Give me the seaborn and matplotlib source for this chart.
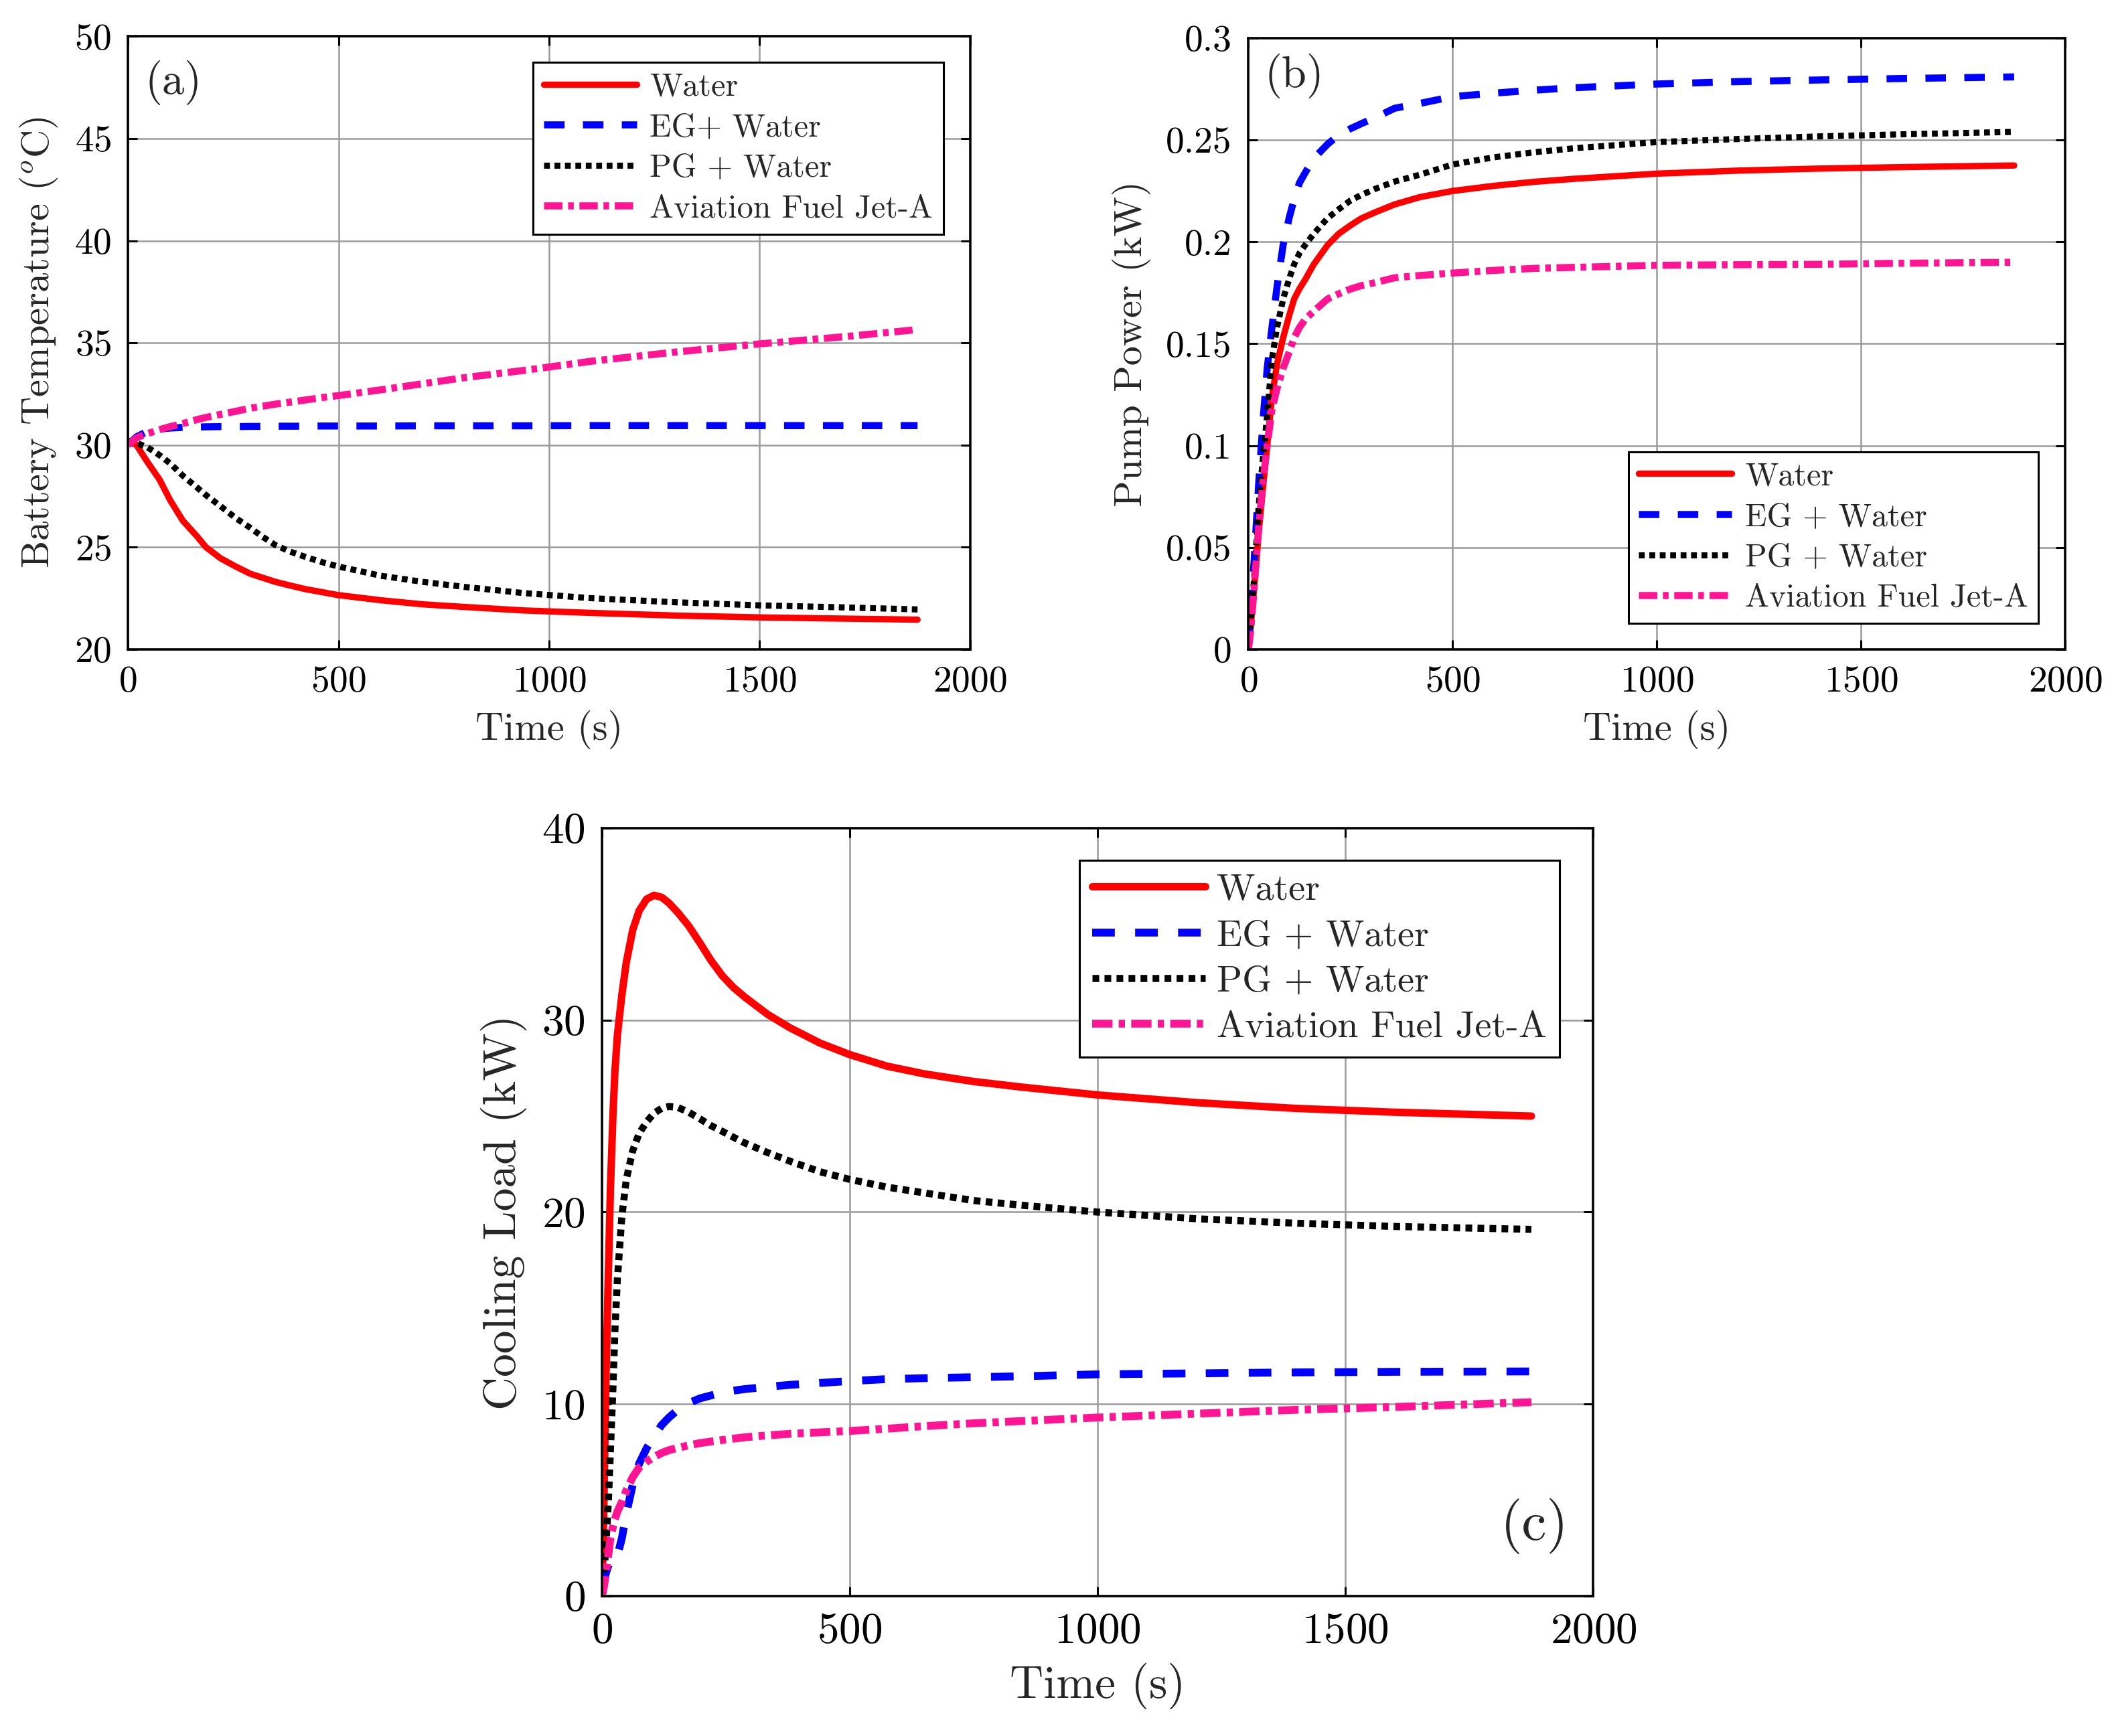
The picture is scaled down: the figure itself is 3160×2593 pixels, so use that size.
import numpy as np
import pandas as pd
import matplotlib
matplotlib.use("Agg")
import matplotlib.pyplot as plt
import seaborn as sns
from matplotlib.ticker import FormatStrFormatter, MultipleLocator

# ---------------- data ----------------
series_names = ["Water", "EG + Water", "PG + Water", "Aviation Fuel Jet-A"]
legend_a = ["Water", "EG+ Water", "PG + Water", "Aviation Fuel Jet-A"]

# (a) Battery temperature
t_a = [0, 20, 45, 75, 100, 130, 165, 185, 220, 256, 290, 320, 350, 385, 420, 460,
       500, 600, 700, 800, 940, 1100, 1300, 1500, 1700, 1875]
a_water = [30.2, 30.0, 29.2, 28.3, 27.3, 26.3, 25.5, 25.0, 24.45, 24.05, 23.7, 23.5,
           23.3, 23.12, 22.95, 22.8, 22.65, 22.4, 22.2, 22.07, 21.9, 21.78, 21.65,
           21.56, 21.5, 21.45]
a_eg = [30.0, 30.4, 30.65, 30.78, 30.83, 30.86, 30.88, 30.89, 30.9, 30.9, 30.91, 30.91,
        30.92, 30.92, 30.92, 30.93, 30.93, 30.93, 30.94, 30.94, 30.94, 30.95, 30.95,
        30.95, 30.95, 30.95]
a_pg = [30.2, 30.1, 29.9, 29.5, 29.1, 28.5, 27.9, 27.55, 27.0, 26.42, 25.95, 25.5,
        25.1, 24.78, 24.53, 24.27, 24.05, 23.6, 23.3, 23.05, 22.75, 22.5, 22.3, 22.15,
        22.05, 21.95]
a_jet = [30.0, 30.35, 30.55, 30.75, 30.9, 31.05, 31.25, 31.35, 31.5, 31.65, 31.8, 31.9,
         32.0, 32.1, 32.2, 32.32, 32.42, 32.7, 33.0, 33.3, 33.65, 34.1, 34.55, 34.95,
         35.3, 35.65]

# (b) Pump power
t_b = [0, 5, 14, 25, 36, 46, 57, 70, 85, 100, 112, 125, 139, 160, 194, 221, 249, 276,
       310, 358, 420, 500, 600, 700, 800, 1000, 1200, 1400, 1600, 1875]
b_water = [0, 0.01, 0.03, 0.057, 0.08, 0.10, 0.123, 0.14, 0.153, 0.164, 0.172, 0.177,
           0.1815, 0.189, 0.1985, 0.204, 0.208, 0.2115, 0.2145, 0.2184, 0.222, 0.225,
           0.2275, 0.2295, 0.231, 0.2335, 0.235, 0.236, 0.2367, 0.2375]
b_eg = [0, 0.017, 0.0435, 0.081, 0.113, 0.138, 0.157, 0.178, 0.1985, 0.212, 0.221,
        0.229, 0.234, 0.241, 0.248, 0.2525, 0.2555, 0.258, 0.261, 0.2656, 0.268, 0.2713,
        0.273, 0.2745, 0.2757, 0.2775, 0.2787, 0.2795, 0.2802, 0.281]
b_pg = [0, 0.012, 0.035, 0.07, 0.095, 0.115, 0.1418, 0.158, 0.172, 0.182, 0.189,
        0.1945, 0.1985, 0.204, 0.2117, 0.216, 0.2202, 0.223, 0.226, 0.2296, 0.233, 0.238,
        0.2415, 0.244, 0.246, 0.249, 0.2505, 0.2518, 0.2528, 0.254]
b_jet = [0, 0.008, 0.03, 0.06, 0.083, 0.1, 0.117, 0.128, 0.138, 0.146, 0.153, 0.158,
         0.162, 0.166, 0.172, 0.1745, 0.1768, 0.1785, 0.18, 0.1824, 0.1835, 0.1847,
         0.186, 0.187, 0.1875, 0.1885, 0.1888, 0.189, 0.1895, 0.19]

# (c) Cooling load
t_c = [0, 4, 8, 13, 17, 22, 26, 31, 40, 49, 62, 75, 90, 105, 120, 135, 153, 175, 198,
       220, 243, 265, 288, 334, 379, 440, 500, 575, 650, 750, 850, 1000, 1200, 1400,
       1600, 1875]
c_water = [0, 5, 11.4, 17, 21.2, 25, 27.3, 29.2, 31.3, 33.0, 34.7, 35.7, 36.3, 36.5,
           36.4, 36.1, 35.6, 34.9, 34.0, 33.1, 32.3, 31.7, 31.2, 30.3, 29.6, 28.8, 28.2,
           27.6, 27.2, 26.8, 26.5, 26.1, 25.7, 25.4, 25.2, 25.0]
c_eg = [0.5, 0.8, 1.2, 1.6, 1.9, 2.0, 2.0, 2.1, 3.0, 4.3, 5.8, 6.9, 7.7, 8.3, 8.9, 9.3,
        9.7, 10.05, 10.3, 10.45, 10.6, 10.7, 10.78, 10.9, 11.0, 11.1, 11.2, 11.3, 11.35,
        11.4, 11.45, 11.55, 11.6, 11.65, 11.68, 11.7]
c_pg = [0, 1.2, 2.7, 5, 7.6, 10.8, 13.8, 16.5, 19.75, 21.7, 23.2, 24.1, 24.7, 25.15,
        25.4, 25.5, 25.45, 25.2, 24.85, 24.5, 24.2, 23.9, 23.6, 23.1, 22.65, 22.1, 21.7,
        21.3, 21.0, 20.6, 20.35, 20.0, 19.65, 19.42, 19.25, 19.1]
c_jet = [0, 0.5, 1.2, 2.2, 3.0, 3.6, 4.0, 4.4, 4.9, 5.5, 6.2, 6.7, 7.0, 7.25, 7.45, 7.6,
         7.72, 7.85, 7.97, 8.05, 8.13, 8.2, 8.27, 8.37, 8.45, 8.53, 8.6, 8.72, 8.85, 9.0,
         9.12, 9.3, 9.5, 9.7, 9.85, 10.1]

xticks = [0, 500, 1000, 1500, 2000]

# ---------------- style ----------------
sns.set_theme(style="white")
plt.rcParams["font.family"] = ["cmr10", "DejaVu Serif"]
plt.rcParams["mathtext.fontset"] = "cm"
plt.rcParams["axes.unicode_minus"] = False
plt.rcParams["axes.formatter.use_mathtext"] = True

colors = ["#ff0000", "#0000ff", "#000000", "#ff1493"]
styles = ["-", (0, (2.9, 2.6)), (0, (0.95, 0.75)), (0, (2.6, 0.8, 0.8, 0.8))]
lw_ab = [3.4, 3.8, 3.3, 3.8]
lw_c = [4.0, 4.2, 3.8, 4.2]

fig = plt.figure(figsize=(15.8, 12.965), dpi=200)
ax_a = fig.add_axes([0.0605, 0.626, 0.398, 0.353])
ax_b = fig.add_axes([0.590, 0.626, 0.386, 0.352])
ax_c = fig.add_axes([0.2845, 0.0806, 0.4685, 0.4424])


def draw(ax, t, ys, labels, lws):
    for y, lab, c, ls, lw in zip(ys, labels, colors, styles, lws):
        df = pd.DataFrame({"t": t, "v": y})
        sns.lineplot(data=df, x="t", y="v", ax=ax, color=c, linewidth=lw,
                     sort=False, estimator=None, legend=False)
        ln = ax.lines[-1]
        ln.set_linestyle(ls)
        ln.set_label(lab)
        ln.set_solid_joinstyle("round")


def style_axes(ax, tick_fs, label_fs, xlabel, ylabel):
    ax.set_xlim(0, 2000)
    ax.set_xticks(xticks)
    ax.grid(True, color="#9a9a9a", linewidth=0.9)
    ax.set_axisbelow(True)
    for s in ax.spines.values():
        s.set_color("black")
        s.set_linewidth(1.3)
        s.set_visible(True)
    ax.tick_params(direction="in", length=5, width=1.1, top=True, right=True,
                   bottom=True, left=True, labelsize=tick_fs, colors="black", pad=9)
    ax.set_xlabel(xlabel, fontsize=label_fs, labelpad=6)
    ax.set_ylabel(ylabel, fontsize=label_fs, labelpad=8)


def make_legend(ax, loc, anchor, fs, hl, ls, bp, htp):
    leg = ax.legend(loc=loc, bbox_to_anchor=anchor, fontsize=fs, handlelength=hl,
                    labelspacing=ls, borderpad=bp, handletextpad=htp,
                    borderaxespad=0.0, fancybox=False, edgecolor="black", framealpha=1)
    leg.get_frame().set_linewidth(1.1)


# (a)
draw(ax_a, t_a, [a_water, a_eg, a_pg, a_jet], legend_a, lw_ab)
style_axes(ax_a, 20, 21, "Time (s)", r"Battery Temperature ($^o$C)")
ax_a.set_ylim(20, 50)
ax_a.yaxis.set_major_locator(MultipleLocator(5))
ax_a.text(0.02, 0.925, "(a)", transform=ax_a.transAxes, fontsize=24, va="center", ha="left")
make_legend(ax_a, "upper right", (0.968, 0.958), 17.3, 2.9, 0.34, 0.32, 0.4)

# (b)
draw(ax_b, t_b, [b_water, b_eg, b_pg, b_jet], series_names, lw_ab)
style_axes(ax_b, 20, 21, "Time (s)", "Pump Power (kW)")
ax_b.set_ylim(0, 0.3)
ax_b.yaxis.set_major_locator(MultipleLocator(0.05))
ax_b.yaxis.set_major_formatter(FormatStrFormatter("%g"))
ax_b.text(0.02, 0.938, "(b)", transform=ax_b.transAxes, fontsize=24, va="center", ha="left")
make_legend(ax_b, "lower right", (0.967, 0.042), 17.3, 2.9, 0.34, 0.32, 0.4)

# (c)
draw(ax_c, t_c, [c_water, c_eg, c_pg, c_jet], series_names, lw_c)
style_axes(ax_c, 23.5, 25, "Time (s)", "Cooling Load (kW)")
ax_c.set_ylim(0, 40)
ax_c.yaxis.set_major_locator(MultipleLocator(10))
ax_c.text(0.975, 0.091, "(c)", transform=ax_c.transAxes, fontsize=30, va="center", ha="right")
make_legend(ax_c, "upper right", (0.966, 0.958), 20.2, 3.0, 0.32, 0.35, 0.3)

fig.savefig("out.png", dpi=200, facecolor="white")
